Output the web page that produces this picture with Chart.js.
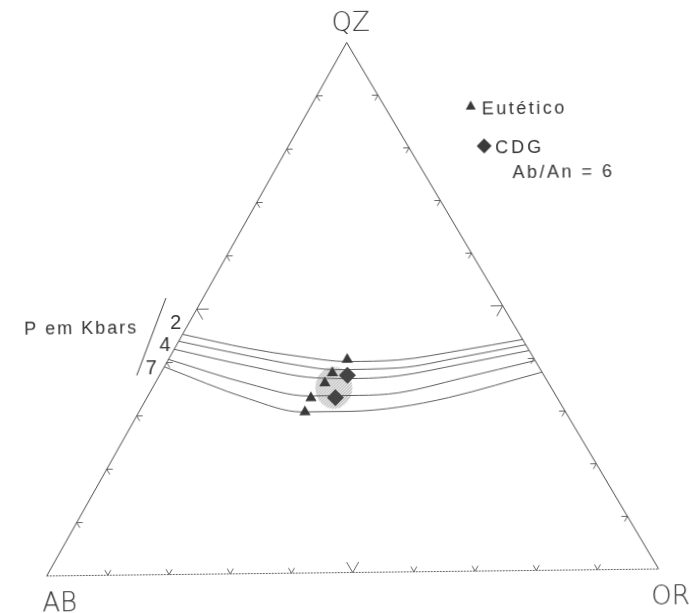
<!DOCTYPE html>
<html>
<head>
<meta charset="utf-8">
<script src="https://cdn.jsdelivr.net/npm/chart.js@4.4.1/dist/chart.umd.min.js"></script>
<style>
  html, body { margin: 0; padding: 0; background: #fff; overflow: hidden; }
  #wrap { width: 689px; height: 613px; position: relative; }
  canvas { display: block; transform: rotate(-0.65deg); transform-origin: 350.7px 395.8px; }
</style>
</head>
<body>
<div id="wrap"><canvas id="c" width="689" height="613"></canvas></div>
<script>
// Compositions are given in percent as [QZ, AB, OR].
const apexQZ = [100, 0, 0];
const apexAB = [0, 100, 0];
const apexOR = [0, 0, 100];

// Tick positions along every side (percent)
const tickSteps = [10, 20, 30, 40, 50, 60, 70, 80, 90];

// Pressure labels written beside the cotectic curves (kbar)
const pressureLabels = ['2', '4', '7'];

// Cotectic curves, from the QZ–AB side to the QZ–OR side
const curve1 = [[45.3, 54.7, 0], [42.5, 45.4, 12.1], [40.9, 38.0, 21.1], [39.8, 30.4, 29.8], [40.0, 22.2, 37.8], [41.7, 11.0, 47.3], [43.6, 0, 56.4]];
const curve2 = [[44.0, 56.0, 0], [41.1, 46.1, 12.8], [39.2, 38.9, 21.9], [38.3, 33.3, 28.4], [38.5, 22.9, 38.6], [40.4, 11.7, 47.9], [42.6, 0, 57.4]];
const curve3 = [[42.5, 57.5, 0], [39.2, 47.1, 13.7], [36.8, 37.3, 25.9], [36.6, 30.4, 33.0], [37.0, 23.7, 39.3], [39.1, 12.3, 48.6], [41.5, 0, 58.5]];
const curve4 = [[40.6, 59.4, 0], [35.8, 48.7, 15.5], [33.4, 40.2, 26.4], [33.4, 32.0, 34.6], [33.8, 25.3, 40.9], [36.4, 13.7, 49.9], [39.6, 0, 60.4]];
const curve5 = [[39.2, 60.8, 0], [33.0, 50.2, 16.8], [30.4, 42.8, 26.8], [30.4, 35.1, 34.5], [31.1, 26.6, 42.3], [32.8, 17.6, 49.6], [37.4, 0, 62.6]];

// Eutectic (minimum-melt) points and CDG samples
const eutectic = [[40.2, 30.4, 29.4], [37.7, 34.1, 28.2], [35.8, 36.3, 27.9], [33.0, 40.0, 27.0], [30.4, 42.3, 27.3]];
const cdg = [[37.2, 31.9, 30.9], [33.0, 35.9, 31.0]];

// Centre of the shaded CDG field
const cdgField = [[34.9, 35.3, 29.8]];

// ---------------------------------------------------------------
const H = Math.sqrt(3) / 2;
function toXY(c) {
  const q = c[0] / 100, o = c[2] / 100;
  return { x: o + q / 2, y: q * H };
}
const pts = arr => arr.map(toXY);

// Stippled fill for the CDG field
function stipple() {
  const p = document.createElement('canvas');
  p.width = 3; p.height = 3;
  const g = p.getContext('2d');
  g.fillStyle = '#ececec'; g.fillRect(0, 0, 3, 3);
  g.fillStyle = '#a8a8a8'; g.fillRect(0, 0, 1, 1); g.fillRect(2, 1, 1, 1); g.fillRect(1, 2, 1, 1);
  return p;
}
function fieldSprite() {
  const c = document.createElement('canvas');
  c.width = 40; c.height = 44;
  const g = c.getContext('2d');
  g.fillStyle = g.createPattern(stipple(), 'repeat');
  g.beginPath();
  g.ellipse(20, 22, 18.5, 21, 0, 0, Math.PI * 2);
  g.fill();
  return c;
}

const S = 612;                       // pixels per unit side
const X0 = 44.7, Y0 = 572.5;         // AB corner
const XMIN = -X0 / S, XMAX = XMIN + 689 / S;
const YMAX = Y0 / S, YMIN = YMAX - 613 / S;

const curveStyle = {
  showLine: true, pointRadius: 0, borderColor: '#5e5e5e', borderWidth: 1,
  cubicInterpolationMode: 'monotone', fill: false, order: 5
};

const frame = {
  id: 'ternaryFrame',
  beforeDatasetsDraw(chart) {
    const { ctx, scales: { x, y } } = chart;
    const px = c => { const p = toXY(c); return [x.getPixelForValue(p.x), y.getPixelForValue(p.y)]; };
    const sides = [
      { at: t => [0, 100 - t, t], arms: [60, 120] },
      { at: t => [t, 0, 100 - t], arms: [180, 240] },
      { at: t => [t, 100 - t, 0], arms: [300, 360] }
    ];
    ctx.save();
    ctx.strokeStyle = '#555';
    ctx.lineWidth = 0.9;
    sides.forEach(s => {
      tickSteps.forEach(t => {
        const [vx, vy] = px(s.at(t));
        const L = t === 50 ? 12 : 6;
        ctx.beginPath();
        ctx.moveTo(vx + Math.cos(s.arms[0] * Math.PI / 180) * L, vy - Math.sin(s.arms[0] * Math.PI / 180) * L);
        ctx.lineTo(vx, vy);
        ctx.lineTo(vx + Math.cos(s.arms[1] * Math.PI / 180) * L, vy - Math.sin(s.arms[1] * Math.PI / 180) * L);
        ctx.stroke();
      });
    });
    ctx.restore();
  },
  afterDraw(chart) {
    const { ctx } = chart;
    ctx.save();
    ctx.fillStyle = '#333';
    ctx.textBaseline = 'alphabetic';

    // vertex labels
    ctx.font = '200 26px "DejaVu Sans"';
    ctx.textAlign = 'center';
    ctx.fillText('QZ', 355, 31);
    ctx.textAlign = 'left';
    ctx.fillText('AB', 40, 608);
    ctx.fillText('OR', 649, 608);

    // key
    ctx.font = '18px "Liberation Sans"';
    ctx.letterSpacing = '2.5px';
    ctx.fillStyle = '#3a3a3a';
    ctx.beginPath();
    ctx.moveTo(474, 102); ctx.lineTo(479, 111); ctx.lineTo(469, 111); ctx.closePath(); ctx.fill();
    ctx.beginPath();
    ctx.moveTo(487, 140); ctx.lineTo(494.5, 147.5); ctx.lineTo(487, 155); ctx.lineTo(479.5, 147.5); ctx.closePath(); ctx.fill();
    ctx.fillStyle = '#333';
    ctx.fillText('Eutético', 485, 116);
    ctx.letterSpacing = '3px';
    ctx.fillText('CDG', 498, 155);
    ctx.letterSpacing = '2.5px';
    ctx.fillText('Ab/An = 6', 515, 180);

    // pressure annotation
    ctx.letterSpacing = '2px';
    ctx.fillText('P em Kbars', 25, 331);
    ctx.letterSpacing = '0px';
    ctx.font = '20px "Liberation Sans"';
    ctx.fillText(pressureLabels[0], 171, 327);
    ctx.fillText(pressureLabels[1], 160, 349);
    ctx.fillText(pressureLabels[2], 146, 372);
    ctx.strokeStyle = '#444';
    ctx.lineWidth = 1;
    ctx.beginPath();
    ctx.moveTo(167, 296); ctx.lineTo(137, 373);
    ctx.stroke();
    ctx.restore();
  }
};

new Chart(document.getElementById('c'), {
  type: 'scatter',
  data: {
    datasets: [
      { data: pts(cdgField), pointStyle: fieldSprite(), pointRadius: 20, order: 10 },
      { data: pts([apexAB, apexOR]), showLine: true, pointRadius: 0, borderColor: '#666', borderWidth: 1, borderDash: [2, 1], order: 6 },
      { data: pts([apexAB, apexQZ, apexOR]), showLine: true, pointRadius: 0, borderColor: '#4a4a4a', borderWidth: 1, order: 6 },
      { data: pts(curve1), ...curveStyle },
      { data: pts(curve2), ...curveStyle },
      { data: pts(curve3), ...curveStyle },
      { data: pts(curve4), ...curveStyle },
      { data: pts(curve5), ...curveStyle },
      { data: pts(eutectic), pointStyle: 'triangle', pointRadius: 6.5, backgroundColor: '#3a3a3a', borderColor: '#3a3a3a', borderWidth: 0, order: 1 },
      { data: pts(cdg), pointStyle: 'rectRot', pointRadius: 8.5, backgroundColor: '#444', borderColor: '#444', borderWidth: 0, order: 0 }
    ]
  },
  options: {
    responsive: false,
    animation: false,
    events: [],
    layout: { padding: 0, autoPadding: false },
    plugins: { legend: { display: false }, tooltip: { enabled: false } },
    scales: {
      x: { type: 'linear', display: false, min: XMIN, max: XMAX },
      y: { type: 'linear', display: false, min: YMIN, max: YMAX }
    }
  },
  plugins: [frame]
});
</script>
</body>
</html>
